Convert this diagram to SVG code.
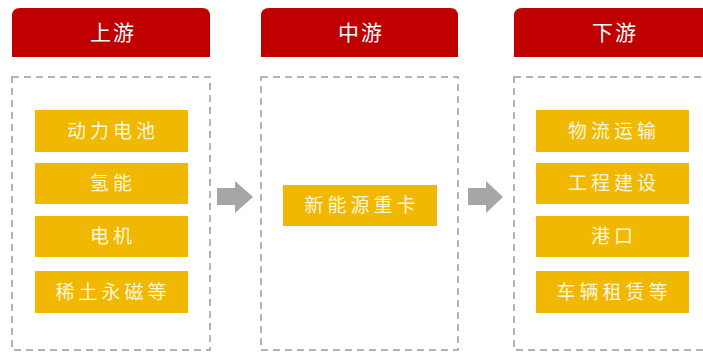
<svg xmlns="http://www.w3.org/2000/svg" width="703" height="352" viewBox="0 0 703 352">
<style>
.hdr{fill:#C00000}
.hdrt{fill:#fff;font-family:"Noto Sans CJK SC","Noto Sans",sans-serif;font-size:21px;text-anchor:middle;letter-spacing:2px}
.box{fill:none;stroke:#B4B4B4;stroke-width:2;stroke-dasharray:7 5}
.item{fill:#F0B800}
.itemt{fill:#FFF6DC;font-family:"Noto Sans CJK SC","Noto Sans",sans-serif;font-size:19px;text-anchor:middle;letter-spacing:4px}
.arr{fill:#A6A6A6}
</style>
<rect width="703" height="352" fill="#fff"/>
<g id="col-upstream">
<path class="hdr" d="M12,57 V16 Q12,8 20,8 H202 Q210,8 210,16 V57 Z"/>
<text class="hdrt" x="113" y="40">上游</text>
<rect class="box" x="12" y="77" width="198" height="273"/>
</g>
<g id="col-midstream">
<path class="hdr" d="M261,57 V16 Q261,8 269,8 H450 Q458,8 458,16 V57 Z"/>
<text class="hdrt" x="361" y="40">中游</text>
<rect class="box" x="261" y="77" width="197" height="273"/>
</g>
<g id="col-downstream">
<path class="hdr" d="M514,57 V16 Q514,8 522,8 H704 Q712,8 712,16 V57 Z"/>
<text class="hdrt" x="615" y="40">下游</text>
<rect class="box" x="514" y="77" width="198" height="273"/>
</g>
<g id="n-battery"><rect class="item" x="35" y="110" width="153" height="42"/><text class="itemt" x="113" y="138">动力电池</text></g>
<g id="n-hydrogen"><rect class="item" x="35" y="163" width="153" height="41"/><text class="itemt" x="113" y="190">氢能</text></g>
<g id="n-motor"><rect class="item" x="35" y="216" width="153" height="41"/><text class="itemt" x="113" y="243">电机</text></g>
<g id="n-rareearth"><rect class="item" x="35" y="271" width="153" height="42"/><text class="itemt" x="113" y="299">稀土永磁等</text></g>
<g id="n-truck"><rect class="item" x="283" y="185" width="154" height="41"/><text class="itemt" x="362" y="212">新能源重卡</text></g>
<g id="n-logistics"><rect class="item" x="536" y="110" width="153" height="42"/><text class="itemt" x="614" y="138">物流运输</text></g>
<g id="n-engineering"><rect class="item" x="536" y="163" width="153" height="41"/><text class="itemt" x="614" y="190">工程建设</text></g>
<g id="n-port"><rect class="item" x="536" y="216" width="153" height="41"/><text class="itemt" x="614" y="243">港口</text></g>
<g id="n-rental"><rect class="item" x="536" y="271" width="153" height="42"/><text class="itemt" x="614" y="299">车辆租赁等</text></g>
<g id="connectors">
<polygon class="arr" points="217,188 235,188 235,181 253,197 235,213 235,205 217,205"/>
<polygon class="arr" points="468,188 486,188 486,181 503,197 486,213 486,205 468,205"/>
</g>
</svg>
